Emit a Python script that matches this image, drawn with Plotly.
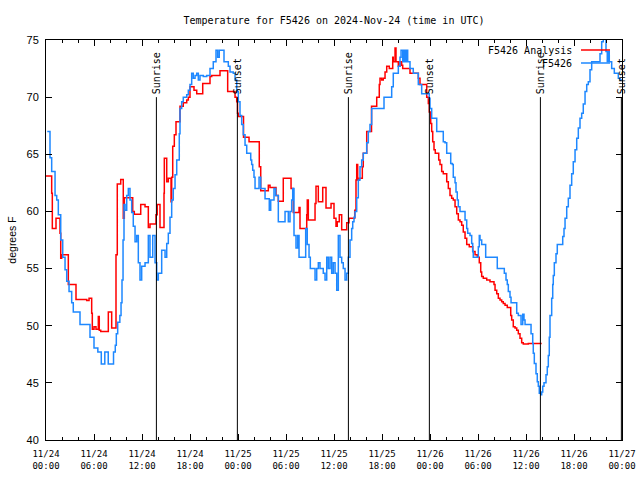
import datetime as dt
import plotly.graph_objects as go

# ---------------- data (hours since 2024-11-24 00:00 UTC) ----------------
base = dt.datetime(2024, 11, 24, 0, 0)

analysis_hours = [0.00, 0.71, 0.79, 1.25, 1.75, 1.84, 1.96, 2.79, 3.75, 5.09, 5.38, 5.71, 5.79, 6.00, 6.25,
                  6.54, 6.66, 6.84, 7.79, 8.21, 8.75, 8.91, 9.34, 9.66, 9.79, 10.84, 11.04, 11.84, 12.38,
                  12.79, 13.00, 13.75, 13.91, 14.25, 14.75, 14.79, 15.09, 15.29, 15.63, 15.71, 15.84, 16.04,
                  16.25, 16.75, 17.16, 17.59, 17.79, 18.00, 18.50, 18.84, 19.59, 20.50, 20.71, 21.75, 22.71,
                  23.63, 23.84, 23.94, 24.04, 24.69, 25.38, 26.66, 26.84, 27.79, 28.00, 28.75, 29.04, 29.66,
                  30.63, 30.91, 31.63, 31.75, 32.59, 32.66, 32.79, 33.63, 33.75, 34.04, 34.59, 35.00, 35.63,
                  36.00, 36.25, 36.41, 36.66, 36.96, 37.59, 37.88, 38.59, 38.75, 38.84, 38.96, 39.16, 39.54,
                  39.66, 40.09, 40.69, 41.34, 41.66, 41.75, 41.96, 42.16, 42.38, 42.59, 42.91, 43.34, 43.41,
                  43.63, 43.75, 44.04, 44.25, 44.46, 44.59, 45.50, 46.54, 46.75, 47.59, 47.79, 47.91, 48.09,
                  48.21, 48.34, 48.50, 48.66, 49.09, 49.25, 49.46, 49.66, 50.09, 50.29, 50.50, 50.71, 50.91,
                  51.13, 51.34, 51.54, 51.75, 51.96, 52.16, 52.38, 52.59, 52.91, 53.34, 53.63, 53.91, 54.16,
                  54.34, 54.46, 54.66, 55.09, 55.50, 56.00, 56.13, 56.34, 56.54, 56.75, 56.96, 57.16, 57.38,
                  57.66, 58.09, 58.21, 58.41, 58.63, 58.84, 59.04, 59.25, 59.46, 59.66, 60.29, 61.96]
analysis_temps = [63.1, 61.6, 58.5, 59.4, 58.1, 55.9, 56.2, 53.6, 52.3, 52.2, 52.4, 51.1, 49.7, 49.9, 49.7,
                  50.8, 49.6, 49.5, 51.2, 49.8, 56.2, 62.4, 62.8, 59.4, 61.2, 60.0, 59.75, 60.6, 60.4,
                  58.6, 58.9, 59.7, 60.6, 58.6, 61.6, 64.65, 62.6, 62.9, 60.85, 63.0, 65.7, 66.7,
                  67.85, 69.2, 69.5, 69.75, 70.0, 70.9, 70.6, 70.3, 71.2, 71.8, 71.9, 72.3, 70.5,
                  70.0, 69.6, 68.6, 68.3, 66.5, 66.1, 63.9, 61.8, 62.3, 62.1, 61.4, 60.9, 62.9,
                  62.0, 59.9, 60.35, 58.5, 59.7, 61.0, 59.25, 60.7, 62.2, 60.85, 62.1, 60.3, 60.7,
                  59.4, 58.7, 59.1, 59.7, 58.4, 59.0, 59.4, 60.1, 62.75, 64.1, 62.75, 62.9, 63.9,
                  65.1, 67.0, 69.2, 70.0, 71.1, 71.65, 71.5, 71.65, 72.2, 72.7, 72.5, 73.5, 73.1,
                  74.3, 73.1, 72.7, 73.1, 72.8, 72.5, 72.1, 71.65, 71.1, 70.0, 69.45, 68.7, 67.7,
                  67.0, 66.1, 65.4, 65.1, 64.5, 64.1, 63.5, 63.3, 62.6, 62.0, 61.4, 61.15, 61.0,
                  60.4, 59.8, 59.25, 59.1, 58.8, 58.2, 57.65, 57.1, 56.9, 56.5, 56.2, 56.0, 55.5,
                  54.7, 54.3, 54.15, 54.0, 53.85, 53.6, 53.1, 52.8, 52.4, 52.25, 52.1, 51.95, 51.8,
                  51.6, 50.9, 50.5, 49.9, 49.8, 49.6, 49.3, 48.9, 48.5, 48.4, 48.45, 48.45]

obs_hours = [0.16, 0.50, 0.71, 1.13, 1.34, 1.54, 1.84, 2.09, 2.38, 2.59, 2.88, 3.21, 3.41, 4.25, 5.50,
             6.00, 6.48, 6.91, 7.35, 7.78, 8.44, 8.66, 8.79, 8.96, 9.23, 9.38, 9.50, 9.63, 9.75, 9.88,
             10.09, 10.29, 10.50, 10.71, 10.91, 11.13, 11.34, 11.54, 11.75, 11.96, 12.38, 12.79, 13.00,
             13.34, 13.63, 13.84, 14.04, 14.46, 14.88, 15.09, 15.29, 15.50, 15.71, 15.91, 16.13, 16.34,
             16.66, 16.75, 16.96, 17.16, 17.59, 17.79, 18.00, 18.21, 18.41, 18.63, 18.84, 19.04, 19.25,
             19.66, 20.09, 20.50, 20.91, 21.25, 21.46, 21.66, 22.25, 22.79, 23.00, 23.41, 23.63, 23.84,
             24.04, 24.25, 24.46, 24.66, 24.88, 25.09, 25.59, 25.71, 25.84, 26.00, 26.13, 26.63, 26.84,
             27.38, 27.91, 28.09, 28.50, 28.71, 29.04, 29.88, 30.29, 30.50, 30.71, 30.84, 31.00, 31.25,
             31.46, 31.63, 32.46, 32.66, 32.88, 33.04, 33.63, 33.84, 34.04, 34.25, 34.66, 34.88, 35.09,
             35.29, 35.50, 35.71, 35.91, 36.13, 36.34, 36.54, 36.75, 36.96, 37.16, 37.38, 37.59, 37.79,
             38.00, 38.21, 38.34, 38.50, 38.63, 38.84, 39.04, 39.25, 39.46, 39.66, 40.09, 40.29, 40.50,
             40.71, 42.25, 43.21, 43.41, 44.04, 44.25, 44.38, 44.59, 44.75, 44.91, 45.09, 45.21, 45.50,
             45.91, 46.54, 46.96, 47.91, 48.00, 48.21, 48.84, 49.66, 49.88, 50.09, 50.59, 50.79, 50.91,
             51.13, 51.25, 51.41, 51.54, 51.75, 52.38, 52.59, 52.71, 53.00, 53.21, 53.34, 53.41, 54.04,
             54.16, 54.25, 54.46, 54.96, 56.41, 57.29, 57.50, 57.66, 57.79, 58.00, 58.13, 58.84, 59.04,
             59.38, 59.59, 59.75, 59.88, 60.63, 60.84, 60.91, 61.04, 61.25, 61.41, 61.54, 61.66, 61.84,
             61.96, 62.09, 62.25, 62.50, 62.66, 62.79, 62.91, 63.00, 63.21, 63.34, 63.41, 63.54, 63.75,
             63.91, 64.59, 64.75, 64.88, 65.09, 65.29, 65.50, 65.71, 65.91, 66.13, 66.34, 66.54, 66.75,
             66.96, 67.16, 67.38, 67.59, 67.79, 68.00, 68.21, 69.25, 69.46, 69.66, 70.00, 70.16, 70.29,
             70.41, 70.71, 71.04, 71.54, 71.75, 72.00]
obs_temps = [67.0, 64.7, 63.5, 61.4, 61.0, 59.7, 57.5, 56.0, 54.9, 53.9, 53.0, 52.0, 51.2, 50.1, 49.0,
             48.05, 47.7, 46.65, 47.7, 46.65, 47.7, 48.3, 49.3, 50.3, 50.9, 52.0, 54.0, 57.5, 60.6, 60.1,
             61.4, 62.0, 61.0, 59.9, 58.7, 57.35, 57.9, 55.5, 54.0, 55.2, 55.5, 57.9, 56.0,
             57.9, 55.5, 54.0, 54.6, 56.6, 56.0, 57.2, 58.1, 59.5, 61.0, 62.0, 63.2, 64.5,
             66.8, 69.0, 69.6, 70.0, 70.2, 70.6, 71.1, 72.1, 71.65, 71.9, 72.1, 71.5, 71.9,
             71.8, 71.9, 72.5, 73.1, 74.1, 73.5, 74.1, 73.1, 72.7, 72.2, 72.1, 71.5, 70.5,
             69.6, 68.4, 67.6, 66.7, 65.8, 65.1, 64.5, 64.1, 63.6, 63.0, 62.0, 63.0, 62.0,
             61.1, 60.1, 61.0, 62.0, 61.4, 59.1, 60.0, 59.1, 60.0, 61.0, 62.0, 57.9, 56.8,
             57.9, 56.0, 58.5, 57.1, 56.0, 55.0, 54.0, 55.0, 55.5, 55.0, 54.6, 54.0, 56.0,
             55.0, 56.0, 54.6, 55.5, 54.6, 53.1, 57.9, 56.0, 55.5, 55.0, 54.0, 54.6, 56.0,
             57.5, 58.5, 59.1, 59.5, 60.0, 61.2, 62.75, 63.9, 64.5, 65.1, 66.0, 67.0, 67.6,
             69.0, 70.0, 70.9, 72.1, 72.7, 73.5, 74.1, 73.1, 74.1, 73.1, 74.1, 73.1, 72.5,
             72.1, 71.1, 70.3, 69.9, 69.0, 68.15, 67.0, 66.1, 66.0, 65.1, 64.2, 64.1, 63.0,
             62.5, 61.7, 61.0, 60.4, 60.0, 59.25, 58.5, 58.1, 57.9, 57.2, 56.5, 56.0, 56.9,
             57.9, 57.5, 57.1, 56.0, 55.0, 54.6, 54.0, 53.6, 53.0, 52.5, 52.0, 51.1, 50.9,
             50.1, 51.0, 50.5, 50.1, 49.3, 48.45, 47.6, 46.7, 45.8, 45.1, 44.7, 44.1, 43.95,
             44.2, 44.7, 45.0, 45.7, 46.4, 47.4, 49.0, 50.9, 52.4, 53.6, 54.4, 55.5, 56.3,
             57.1, 57.8, 58.5, 59.4, 60.4, 61.15, 62.3, 63.3, 64.35, 65.4, 66.4, 67.3, 68.15,
             68.6, 69.4, 70.5, 71.1, 71.35, 72.4, 73.1, 73.8, 74.85, 75.3, 74.0, 73.1, 74.0,
             73.1, 72.5, 72.1, 71.65, 71.5, 71.5]

sunrise_hours = [13.80, 37.80, 61.80]
sunset_hours = [23.92, 47.92, 71.92]
marker_top = 70.0
marker_label_y = 70.2

tick_hours = [0, 6, 12, 18, 24, 30, 36, 42, 48, 54, 60, 66, 72]
tick_labels = ["11/24<br>00:00", "11/24<br>06:00", "11/24<br>12:00", "11/24<br>18:00",
               "11/25<br>00:00", "11/25<br>06:00", "11/25<br>12:00", "11/25<br>18:00",
               "11/26<br>00:00", "11/26<br>06:00", "11/26<br>12:00", "11/26<br>18:00",
               "11/27<br>00:00"]

series_names = ["F5426 Analysis", "F5426"]
series_colors = ["#ff0000", "#1e88ff"]


def to_time(hours):
    return [base + dt.timedelta(hours=h) for h in hours]


mono = "DejaVu Sans Mono"
fig = go.Figure()

fig.add_trace(go.Scatter(x=to_time(analysis_hours), y=analysis_temps, mode="lines",
                         line=dict(color=series_colors[0], width=1.5, shape="hv"),
                         name=series_names[0], showlegend=False))
fig.add_trace(go.Scatter(x=to_time(obs_hours), y=obs_temps, mode="lines",
                         line=dict(color=series_colors[1], width=1.5, shape="hv"),
                         name=series_names[1], showlegend=False))

# sunrise / sunset vertical markers
mx, my = [], []
for h in sunrise_hours + sunset_hours:
    t = base + dt.timedelta(hours=h)
    mx += [t, t, None]
    my += [40, marker_top, None]
fig.add_trace(go.Scatter(x=mx, y=my, mode="lines", line=dict(color="black", width=1),
                         showlegend=False, hoverinfo="skip"))

annotations = []
for h in sunrise_hours:
    annotations.append(dict(x=base + dt.timedelta(hours=h), y=marker_label_y, xref="x", yref="y",
                            text="Sunrise", textangle=-90, showarrow=False,
                            xanchor="center", yanchor="bottom", borderpad=0,
                            font=dict(family=mono, size=10, color="black")))
for h in sunset_hours:
    annotations.append(dict(x=base + dt.timedelta(hours=h), y=marker_label_y, xref="x", yref="y",
                            text="Sunset", textangle=-90, showarrow=False,
                            xanchor="center", yanchor="bottom", borderpad=0,
                            font=dict(family=mono, size=10, color="black")))

# legend (text on left, line sample on right, gnuplot style)
leg_y = [0.975, 0.9425]
shapes = []
for name, col, yy in zip(series_names, series_colors, leg_y):
    annotations.append(dict(x=0.9167, y=yy, xref="paper", yref="paper", text=name,
                            showarrow=False, xanchor="right", yanchor="middle",
                            font=dict(family=mono, size=10, color="black")))
    shapes.append(dict(type="line", xref="paper", yref="paper", x0=0.9288, x1=0.9792,
                       y0=yy, y1=yy, line=dict(color=col, width=1.5)))

fig.update_layout(
    width=640, height=480,
    margin=dict(l=46, r=18, t=40, b=40, autoexpand=False),
    paper_bgcolor="white", plot_bgcolor="white",
    title=dict(text="Temperature for F5426 on 2024-Nov-24 (time in UTC)",
               x=0.5, xref="paper", y=1 - 20 / 480, yref="container", yanchor="middle",
               font=dict(family=mono, size=10, color="black")),
    annotations=annotations,
    shapes=shapes,
    showlegend=False,
)

fig.update_xaxes(
    type="date", automargin=False,
    range=[base, base + dt.timedelta(hours=72)],
    tickvals=to_time(tick_hours), ticktext=tick_labels,
    showline=True, linecolor="black", linewidth=1, mirror="ticks",
    ticks="inside", ticklen=6, tickcolor="black", tickwidth=1,
    minor=dict(dtick=2 * 3600 * 1000, ticks="inside", ticklen=3, tickcolor="black", tickwidth=1),
    showgrid=False, zeroline=False, ticklabelstandoff=5,
    tickfont=dict(family=mono, size=9, color="black"),
)
fig.update_yaxes(
    range=[40, 75], dtick=5, tick0=40, automargin=False,
    showline=True, linecolor="black", linewidth=1, mirror="ticks",
    ticks="inside", ticklen=6, tickcolor="black", tickwidth=1,
    showgrid=False, zeroline=False, ticklabelstandoff=4,
    tickfont=dict(family="Liberation Sans", size=11, color="black"),
    title=dict(text="degrees F", font=dict(family="Liberation Sans", size=10.5, color="black"),
               standoff=7),
)

fig.write_html("out.html", config={"displayModeBar": False},
               post_script="document.body.style.margin='0';")
